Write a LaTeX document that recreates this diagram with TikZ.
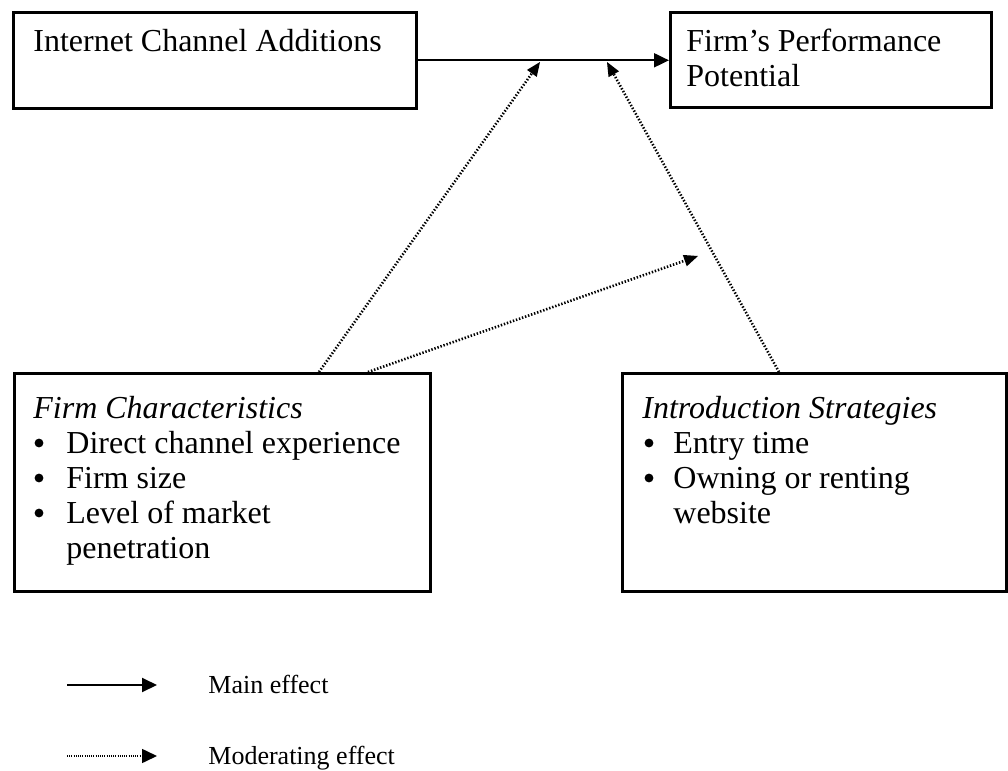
\documentclass[tikz,border=0pt]{standalone}
\usepackage{fontspec}
\setmainfont{Liberation Serif}
\usetikzlibrary{arrows.meta}
\begin{document}
\begin{tikzpicture}[x=0.5pt,y=-0.5pt,
  box/.style={draw,line width=1.3pt,inner sep=0pt,anchor=north west},
  txt/.style={anchor=base west,inner sep=0pt,font=\fontsize{16}{17.25}\selectfont},
  leg/.style={anchor=base west,inner sep=0pt,font=\fontsize{13}{15}\selectfont},
  mainarr/.style={line width=1pt,-{Triangle[length=7.5pt,width=7pt]}},
  modarr/.style={line width=1.3pt,dash pattern=on 0.7pt off 0.9pt,-{Triangle[length=7pt,width=6pt,line width=0pt]}},
  legmod/.style={line width=0.8pt,dash pattern=on 0.5pt off 0.6pt,-{Triangle[length=7.5pt,width=7pt]}},
  bul/.style={circle,fill,inner sep=0pt,minimum size=4.4pt},
]
\useasboundingbox (0,0) rectangle (1008,771);

% boxes
\node[box,minimum width=201.5pt,minimum height=48pt] (ica) at (12,11) {};
\node[box,minimum width=160.5pt,minimum height=47.5pt] (fpp) at (669,11) {};
\node[box,minimum width=208pt,minimum height=109pt] (fc) at (13,372) {};
\node[box,minimum width=192pt,minimum height=109pt] (is) at (621,372) {};

% texts
\node[txt] (t1) at (33,52) {Internet Channel Additions};
\node[txt] (t2a) at (686,52) {Firm’s Performance};
\node[txt] (t2b) at (686,86) {Potential};

\node[txt] (fct) at (33,418) {\itshape Firm Characteristics};
\node[bul] (fb1) at (39,443) {};
\node[txt] (f1) at (66,453) {Direct channel experience};
\node[bul] (fb2) at (39,478) {};
\node[txt] (f2) at (66,488) {Firm size};
\node[bul] (fb3) at (39,513) {};
\node[txt] (f3) at (66,523) {Level of market};
\node[txt] (f4) at (66,558) {penetration};

\node[txt] (ist) at (642,418) {\itshape Introduction Strategies};
\node[bul] (ib1) at (649,443) {};
\node[txt] (i1) at (673,453) {Entry time};
\node[bul] (ib2) at (649,478) {};
\node[txt] (i2) at (673,488) {Owning or renting};
\node[txt] (i3) at (673,523) {website};

% connectors
\draw[mainarr] (ica.east) -- (ica.east -| fpp.west);

\coordinate (s1) at (319,372);
\coordinate (e1) at (540,62);
\coordinate (s2) at (368,372);
\coordinate (e2) at (698,256);
\coordinate (s3) at (779,372);
\coordinate (e3) at (607,62);
\draw[modarr] (s1) -- (e1);
\draw[modarr] (s2) -- (e2);
\draw[modarr] (s3) -- (e3);

% legend
\coordinate (la) at (67,685);
\coordinate (lb) at (157,685);
\coordinate (lc) at (67,756);
\coordinate (ld) at (157,756);
\draw[mainarr] (la) -- (lb);
\draw[legmod] (lc) -- (ld);
\node[leg] (lm) at (208,693) {Main effect};
\node[leg] (lmod) at (208,764) {Moderating effect};
\end{tikzpicture}
\end{document}
